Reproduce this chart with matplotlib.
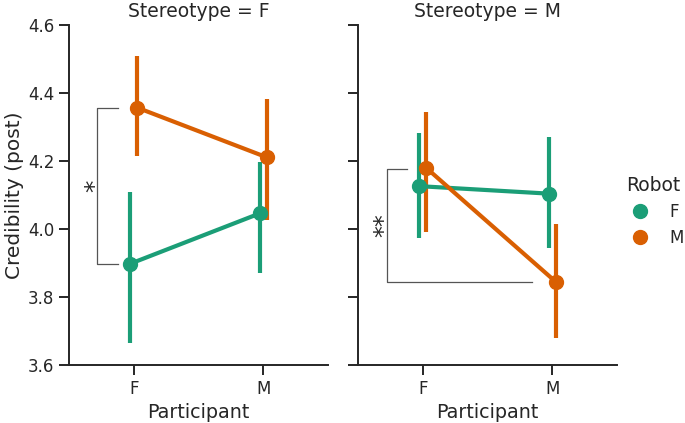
import matplotlib
matplotlib.use("Agg")
import matplotlib.pyplot as plt
from matplotlib.lines import Line2D

# values (means and 95% CI bounds)
participants = ["F", "M"]
robots = ["F", "M"]
stereotypes = ["F", "M"]

mean_sF = {"F": [3.898, 4.046], "M": [4.357, 4.211]}
low_sF = {"F": [3.665, 3.871], "M": [4.215, 4.026]}
high_sF = {"F": [4.108, 4.198], "M": [4.510, 4.382]}

mean_sM = {"F": [4.126, 4.104], "M": [4.180, 3.845]}
low_sM = {"F": [3.973, 3.943], "M": [3.992, 3.680]}
high_sM = {"F": [4.283, 4.270], "M": [4.345, 4.014]}

colors = {"F": "#1b9e77", "M": "#d95f02"}
dodge = {"F": -0.026, "M": 0.026}

plt.rcParams["font.family"] = "DejaVu Sans"
plt.rcParams["text.color"] = "#262626"
plt.rcParams["axes.labelcolor"] = "#262626"
plt.rcParams["xtick.color"] = "#262626"
plt.rcParams["ytick.color"] = "#262626"
plt.rcParams["axes.edgecolor"] = "#262626"

fig = plt.figure(figsize=(6.85, 4.23), dpi=100)
ax1 = fig.add_axes([69 / 685, 58 / 423, 259 / 685, 340 / 423])
ax2 = fig.add_axes([358 / 685, 58 / 423, 259 / 685, 340 / 423])

panels = [
    (ax1, "F", mean_sF, low_sF, high_sF),
    (ax2, "M", mean_sM, low_sM, high_sM),
]

for ax, st, means, lows, highs in panels:
    for r in robots:
        xs = [i + dodge[r] for i in range(len(participants))]
        ax.vlines(xs, lows[r], highs[r], color=colors[r], lw=3.0, zorder=2)
        ax.plot(xs, means[r], color=colors[r], lw=3.0, marker="o", ms=10, zorder=3)
    ax.set_xlim(-0.5, 1.5)
    ax.set_ylim(3.6, 4.6)
    ax.set_xticks(range(len(participants)))
    ax.set_xticklabels(participants)
    ax.set_yticks([3.6, 3.8, 4.0, 4.2, 4.4, 4.6])
    ax.set_xlabel("Participant", fontsize=13.8)
    ax.set_title(f"Stereotype = {st}", fontsize=13.5)
    ax.tick_params(labelsize=12, width=1.4, length=7)
    for side in ["top", "right"]:
        ax.spines[side].set_visible(False)
    for side in ["left", "bottom"]:
        ax.spines[side].set_linewidth(1.4)

ax1.set_yticklabels(["3.6", "3.8", "4.0", "4.2", "4.4", "4.6"])
ax1.set_ylabel("Credibility (post)", fontsize=14.5, labelpad=3)
ax2.tick_params(labelleft=False)

# significance brackets
br = "#555555"
ax1.plot([-0.122, -0.284, -0.284, -0.122], [4.357, 4.357, 3.898, 3.898],
         color=br, lw=0.9, zorder=1)
ax1.text(-0.30, 4.127, "*", rotation=90, ha="center", va="center", fontsize=18)

ax2.plot([-0.118, -0.276, -0.276, 0.844], [4.177, 4.177, 3.845, 3.845],
         color=br, lw=0.9, zorder=1)
ax2.text(-0.295, 4.011, "**", rotation=90, ha="center", va="center", fontsize=17)

handles = [Line2D([], [], color=colors[r], marker="o", ls="", ms=10) for r in robots]
fig.legend(handles, robots, title="Robot", loc="center left",
           bbox_to_anchor=(608 / 685, 0.5), frameon=False,
           fontsize=12, title_fontsize=13.5, handletextpad=0.8)

fig.savefig("out.png", dpi=100)
